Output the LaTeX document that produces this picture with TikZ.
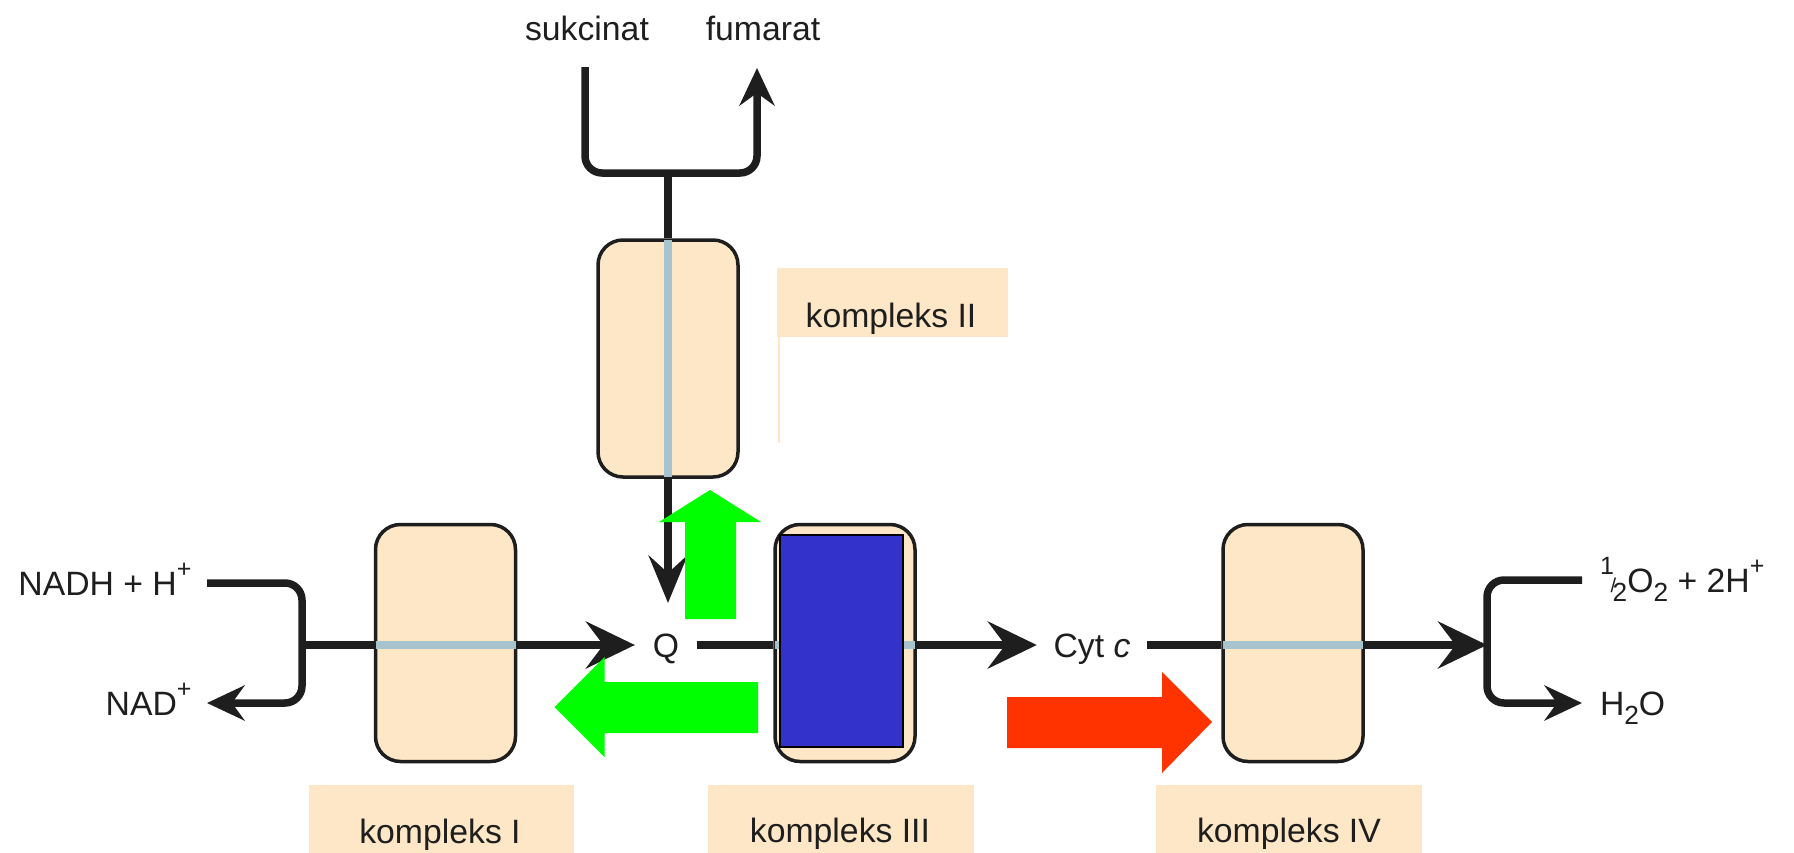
\documentclass[tikz,border=0pt]{standalone}
\usepackage{fontspec}
\setmainfont{Liberation Sans}
\usetikzlibrary{arrows.meta}
\definecolor{peach}{HTML}{FDE7C6}
\definecolor{stripec}{HTML}{A7C4CE}
\definecolor{ink}{HTML}{1E1E1E}
\definecolor{cblue}{HTML}{3333CC}
\definecolor{cgreen}{HTML}{00FF00}
\definecolor{cred}{HTML}{FF3300}
\newcommand\fsz{\fontsize{13.5pt}{16pt}\selectfont}
\newcommand\mysup[1]{\raisebox{0.52em}{\fontsize{10pt}{10pt}\selectfont #1}}
\newcommand\mysub[1]{\raisebox{-0.28em}{\fontsize{10.5pt}{10.5pt}\selectfont #1}}
\begin{document}
\begin{tikzpicture}[x=0.4pt,y=-0.4pt,
  ln/.style={draw=ink,line width=3pt},
  stp/.style={draw=stripec,line width=3pt,shorten <=0.7pt,shorten >=0.7pt},
  bigtip/.style={-{Stealth[length=19.6pt,width=18.8pt,inset=7pt]}},
  midtip/.style={-{Stealth[length=19pt,width=15.5pt,inset=7pt]}},
  smalltip/.style={-{Stealth[length=15pt,width=14pt,inset=5pt]}},
  cplx/.style={draw=ink,line width=1.4pt,fill=peach,rounded corners=10pt,
    minimum width=56pt,minimum height=94.8pt,inner sep=0pt},
  txt/.style={font=\fsz,inner sep=0pt,text height=9.67pt,text depth=0pt,text=ink},
  labbox/.style={fill=peach}
]
\useasboundingbox (0,0) rectangle (1794,853);

% label backgrounds
\fill[labbox] (309,785) rectangle (574,853);
\fill[labbox] (708,785) rectangle (974,853);
\fill[labbox] (1156,785) rectangle (1422,853);
\fill[labbox] (777,268) rectangle (1008,337);
\draw[peach,line width=1pt] (779,337) -- (779,443);

% complexes
\node[cplx] (c1) at (445.5,643) {};
\node[cplx] (c2) at (668,358.5) {};
\node[cplx] (c3) at (845,643) {};
\node[cplx] (c4) at (1293,643) {};

% text nodes
\node[txt] (suk) at (587,28) {sukcinat};
\node[txt] (fum) at (763,28) {fumarat};
\node[txt,inner xsep=6pt,anchor=east] (nadh) at (207,583) {NADH + H\mysup{+}};
\node[txt,inner xsep=6pt,anchor=east] (nad) at (207,703) {NAD\mysup{+}};
\node[txt,inner xsep=7pt] (Q) at (666,645) {Q};
\node[txt,inner xsep=6.5pt] (cyt) at (1092,645) {Cyt \textit{c}};
\node[txt,inner xsep=7pt,anchor=west] (o2) at (1582,580) {\mysup{1}\kern-0.1em{\footnotesize/}\kern-0.1em\mysub{2}O\mysub{2} + 2H\mysup{+}};
\node[txt,inner xsep=7pt,anchor=west] (h2o) at (1582,703) {H\mysub{2}O};
\node[txt] (l1) at (440,831) {kompleks I};
\node[txt] (l2) at (891,315) {kompleks II};
\node[txt] (l3) at (840,830) {kompleks III};
\node[txt] (l4) at (1289,830) {kompleks IV};

% junctions
\coordinate (jL) at (302,645);
\coordinate (jR) at (1487,645);
\coordinate (jT) at (668,173);
\coordinate (sukEnd) at (585,67);
\coordinate (fumEnd) at (757,68);
\coordinate (qtop) at (668,603);

% left bracket
\draw[ln,rounded corners=6.8pt,smalltip] (nadh.east) -- (jL |- nadh.east) -- (jL |- nad.east) -- (nad.east);
% main line
\draw[ln] (jL) -- (c1.west |- jL);
\draw[stp] (c1.west |- jL) -- (c1.east |- jL);
\draw[ln,bigtip] (c1.east |- jL) -- (Q.west);
\draw[ln] (Q.east) -- (c3.west |- jL);
\draw[stp] (c3.west |- jL) -- (c3.east |- jL);
\draw[ln,bigtip] (c3.east |- jL) -- (cyt.west);
\draw[ln] (cyt.east) -- (c4.west |- jL);
\draw[stp] (c4.west |- jL) -- (c4.east |- jL);
\draw[ln,bigtip] (c4.east |- jL) -- (jR);
% right bracket
\draw[ln,rounded corners=6.8pt,smalltip] (o2.west) -- (jR |- o2.west) -- (jR |- h2o.west) -- (h2o.west);
% top bracket
\draw[ln,rounded corners=6.8pt,smalltip] (sukEnd) -- (sukEnd |- jT) -- (fumEnd |- jT) -- (fumEnd);
\draw[ln] (jT) -- (c2.north);
\draw[stp] (c2.north) -- (c2.south);
\draw[ln,midtip] (c2.south) -- (qtop);

% blue block in complex III
\node[fill=cblue,draw=black,line width=1pt,minimum width=49.2pt,minimum height=84.8pt,inner sep=0pt] (blue) at (841.5,641) {};

% block arrows
\fill[cgreen] (685,619) -- (685,522) -- (659,522) -- (710,490) -- (761,522) -- (736,522) -- (736,619) -- cycle;
\fill[cgreen] (758,682) -- (604.5,682) -- (604.5,657) -- (554.5,707) -- (604.5,757) -- (604.5,733) -- (758,733) -- cycle;
\fill[cred] (1007,697) -- (1162,697) -- (1162,672) -- (1212,722) -- (1162,773) -- (1162,748) -- (1007,748) -- cycle;
\end{tikzpicture}
\end{document}
